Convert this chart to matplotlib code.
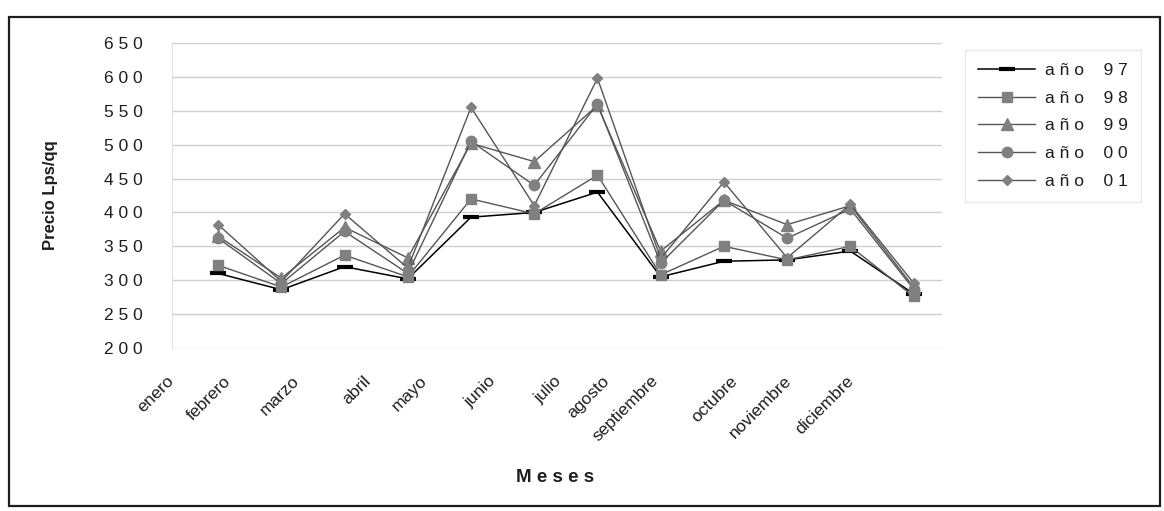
import matplotlib.pyplot as plt
import matplotlib.patches as patches
import numpy as np

# DATA
meses = ['enero', 'febrero', 'marzo', 'abril', 'mayo', 'junio', 'julio',
         'agosto', 'septiembre', 'octubre', 'noviembre', 'diciembre']
series = ['año 97', 'año 98', 'año 99', 'año 00', 'año 01']
p97 = [310, 286, 320, 302, 393, 400, 430, 305, 328, 330, 343, 280]
p98 = [322, 290, 337, 305, 420, 398, 455, 308, 350, 330, 350, 276]
p99 = [365, 303, 378, 333, 502, 475, 558, 343, 418, 382, 410, 290]
p00 = [362, 295, 372, 310, 505, 440, 560, 325, 418, 362, 405, 287]
p01 = [382, 298, 398, 318, 555, 410, 598, 332, 445, 333, 412, 296]
yticks = [200, 250, 300, 350, 400, 450, 500, 550, 600, 650]

# label anchor positions along the category axis (labels sit left of the points)
label_pos = [-0.73, 0.17, 1.25, 2.38, 3.27, 4.36, 5.39, 6.15, 6.93, 8.18, 9.03, 10.02]

plt.rcParams['font.family'] = 'Liberation Sans'
ink = '#1e1e1e'


def spaced(s):
    return ' '.join(s)


def legend_text(s):
    word, year = s.split()
    return spaced(word) + '    ' + spaced(year)


# FIGURE
fig = plt.figure(figsize=(11.64, 5.11), dpi=100)
ax = fig.add_axes([172 / 1164, 1 - 348 / 511, 770 / 1164, 305 / 511])

# outer chart frame
fig.patches.append(patches.Rectangle((9 / 1164, 1 - 506 / 511), 1151 / 1164, 489 / 511,
                                     transform=fig.transFigure, fill=False,
                                     edgecolor=ink, linewidth=1.6))

x = np.arange(len(meses))
gray = '#808080'
line = '#555555'
ax.plot(x, p97, color='black', lw=1.1, marker='_', ms=11, mew=3, mec='black', label=legend_text(series[0]))
ax.plot(x, p98, color=line, lw=1.0, marker='s', ms=6.5, mfc=gray, mec=gray, label=legend_text(series[1]))
ax.plot(x, p99, color=line, lw=1.0, marker='^', ms=8.5, mfc=gray, mec=gray, label=legend_text(series[2]))
ax.plot(x, p00, color=line, lw=1.0, marker='o', ms=7.5, mfc=gray, mec=gray, label=legend_text(series[3]))
ax.plot(x, p01, color=line, lw=1.0, marker='D', ms=5.5, mfc=gray, mec=gray, label=legend_text(series[4]))

ax.set_xlim(-0.55, 11.45)
ax.set_ylim(200, 650)
ax.set_yticks(yticks, labels=[spaced(str(v)) for v in yticks])
ax.grid(axis='y', color='#cfcfcf', lw=1.0)
ax.set_axisbelow(True)
for s in ['top', 'right', 'bottom']:
    ax.spines[s].set_visible(False)
ax.spines['left'].set_color('#e2e2e2')
ax.tick_params(axis='y', length=0, pad=21, labelsize=12.5, labelcolor=ink)

ax.set_xticks(label_pos, labels=meses)
ax.tick_params(axis='x', length=0, pad=22, labelsize=12.5, labelcolor=ink)
for lbl in ax.get_xticklabels():
    lbl.set_rotation(45)
    lbl.set_ha('right')
    lbl.set_va('center')
    lbl.set_rotation_mode('anchor')

ax.set_ylabel('Precio Lps/qq', fontsize=12, fontweight='bold', labelpad=33, color=ink)
fig.text(555 / 1164, 1 - 478 / 511, spaced('Meses'), ha='center', va='center',
         fontsize=13.5, fontweight='bold', color=ink)

leg = fig.legend(loc='upper left', bbox_to_anchor=(965 / 1164, 1 - 50 / 511),
                 fontsize=12.5, frameon=True, fancybox=False, handlelength=3.3,
                 handletextpad=0.55, labelspacing=0.72, borderpad=0.75, borderaxespad=0)
leg.get_frame().set_edgecolor('#e4e4e4')
leg.get_frame().set_linewidth(1.0)
for t in leg.get_texts():
    t.set_color(ink)

fig.savefig('out.png', dpi=100)
